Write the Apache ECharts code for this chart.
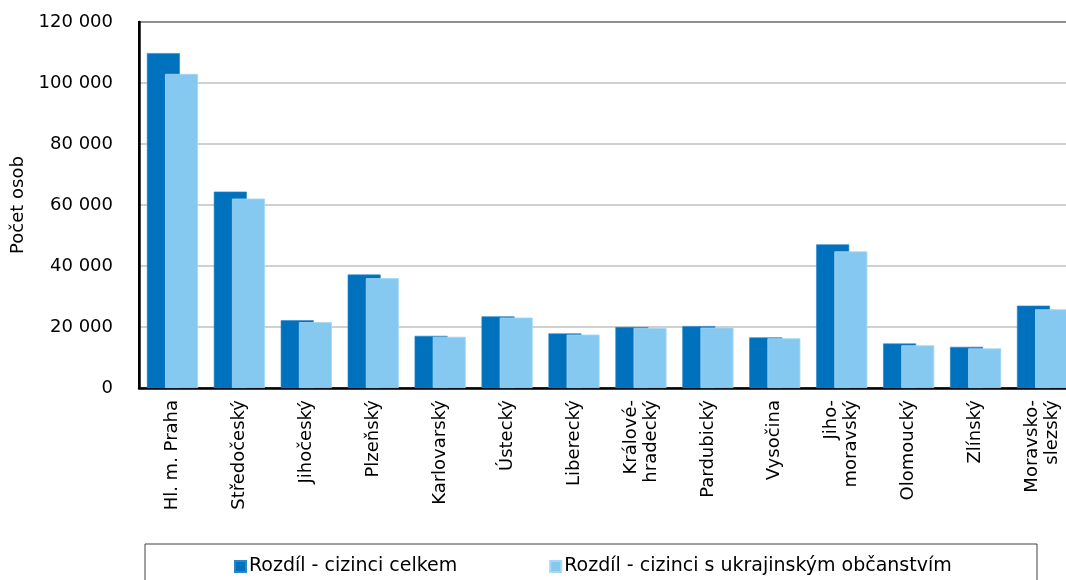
<!DOCTYPE html>
<html>
<head>
<meta charset="utf-8">
<script src="https://cdn.jsdelivr.net/npm/echarts@6/dist/echarts.min.js"></script>
<style>
html,body{margin:0;padding:0;background:#fff;}
#chart{width:1066px;height:580px;}
</style>
</head>
<body>
<div id="chart"></div>
<script>
const categories = ['Hl. m. Praha', 'Středočeský', 'Jihočeský', 'Plzeňský', 'Karlovarský', 'Ústecký', 'Liberecký', 'Králové-\nhradecký', 'Pardubický', 'Vysočina', 'Jiho-\nmoravský', 'Olomoucký', 'Zlínský', 'Moravsko-\nslezský'];
const seriesNames = ['Rozdíl - cizinci celkem', 'Rozdíl - cizinci s ukrajinským občanstvím'];
const celkem = [109800, 64400, 22200, 37200, 17100, 23500, 17900, 20000, 20300, 16600, 47100, 14600, 13500, 27000];
const ukrajina = [103000, 62100, 21600, 36000, 16800, 23100, 17500, 19700, 19800, 16300, 44800, 14000, 13000, 25800];
const yTicks = [0, 20000, 40000, 60000, 80000, 100000, 120000];
const yName = 'Počet osob';

const FONT = 'DejaVu Sans';
const chart = echarts.init(document.getElementById('chart'), null, {renderer: 'canvas'});
const fmt = v => String(v).replace(/\B(?=(\d{3})+(?!\d))/g, ' ');

chart.setOption({
  animation: false,
  backgroundColor: '#ffffff',
  textStyle: {fontFamily: FONT},
  grid: {left: 139, right: -10, top: 22, bottom: 192, show: true, borderColor: '#000', borderWidth: 2,
         containLabel: false, outerBoundsMode: 'none'},
  graphic: [{
    type: 'rect', left: 142.5, top: 541.5,
    shape: {width: 892, height: 60},
    style: {fill: 'none', stroke: '#404040', lineWidth: 1}
  }],
  legend: {
    left: 234, top: 557, padding: 0,
    itemWidth: 11, itemHeight: 11, itemGap: 92,
    icon: 'rect',
    textStyle: {fontFamily: FONT, fontSize: 19, color: '#000', padding: [0, 0, 0, -2]},
    data: seriesNames
  },
  xAxis: {
    type: 'category',
    data: categories,
    axisLine: {show: true, lineStyle: {color: '#000', width: 2.5}},
    axisTick: {show: false},
    axisLabel: {interval: 0, rotate: 90, margin: 12, fontFamily: FONT, fontSize: 18, color: '#000', lineHeight: 20}
  },
  yAxis: {
    type: 'value',
    min: yTicks[0], max: yTicks[yTicks.length - 1], interval: yTicks[1] - yTicks[0],
    name: yName, nameLocation: 'middle', nameGap: 112, nameRotate: 90,
    nameTextStyle: {fontFamily: FONT, fontSize: 18, color: '#000'},
    axisLine: {show: true, lineStyle: {color: '#000', width: 2.5}},
    axisTick: {show: false},
    axisLabel: {margin: 26, fontFamily: FONT, fontSize: 18, color: '#000', formatter: fmt},
    splitLine: {show: true, lineStyle: {color: '#c0c0c0', width: 1.5}}
  },
  series: [
    {name: seriesNames[0], type: 'bar', data: celkem, barWidth: 33, barGap: '-45%',
     itemStyle: {color: '#0071bc', borderColor: '#2a86c8', borderWidth: 0.6}},
    {name: seriesNames[1], type: 'bar', data: ukrajina, barWidth: 33, barGap: '-45%',
     itemStyle: {color: '#86c9f0', borderColor: '#a6d7f4', borderWidth: 0.8}}
  ]
});
</script>
</body>
</html>
